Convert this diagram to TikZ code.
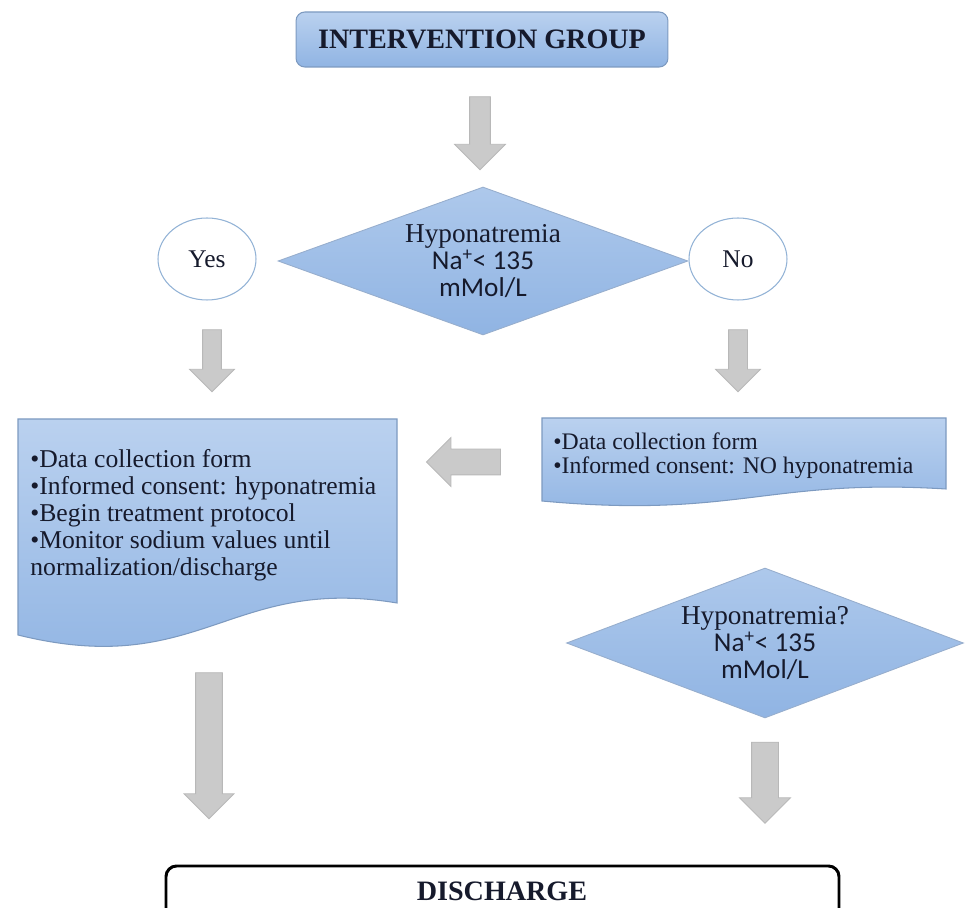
\documentclass[tikz,border=0pt]{standalone}
\usepackage{fontspec}
\setmainfont{Liberation Serif}
\newfontfamily\calibri{Carlito}
\usepackage{tikz}
\usetikzlibrary{shapes.geometric, shapes.arrows, calc}
\definecolor{bTop}{HTML}{BAD1EF}
\definecolor{bBot}{HTML}{90B4E3}
\definecolor{bLine}{HTML}{7D9AC0}
\definecolor{cLine}{HTML}{93B3D6}
\definecolor{aFill}{HTML}{CACACA}
\definecolor{aLine}{HTML}{B8B8B8}
\definecolor{tInk}{HTML}{161A2C}

\begin{document}
\begin{tikzpicture}[
  x=0.02cm, y=-0.02cm,
  every node/.style={text=tInk},
  box/.style={rectangle, rounded corners=5pt, draw=bLine, top color=bTop, bottom color=bBot,
              line width=0.6pt, minimum width=7.44cm, minimum height=1.1cm,
              font=\fontsize{16}{18}\selectfont\bfseries},
  decide/.style={diamond, draw=bLine!80, top color=bTop!70!bBot, bottom color=bBot,
                 line width=0.5pt, inner sep=0pt, align=center,
                 font=\fontsize{15.5}{15.6}\selectfont},
  answer/.style={ellipse, draw=cLine, fill=white, line width=0.6pt,
                 minimum width=1.96cm, minimum height=1.64cm,
                 font=\fontsize{14.5}{16}\selectfont},
  sheet/.style={draw=bLine, top color=bTop, bottom color=bBot, line width=0.6pt},
  garrow/.style={single arrow, draw=aLine, fill=aFill, line width=0.5pt,
                 single arrow head indent=0pt}
]
\useasboundingbox (0,0) rectangle (965,908);
\clip (0,0) rectangle (965,908);

% start
\node[box] (group) at (482,39.5) {INTERVENTION GROUP};
\node[garrow, shape border rotate=270, minimum height=1.46cm, inner sep=0.2cm,
      single arrow head extend=0.3cm] (arr1) at (480,128) {};

% first question
\node[decide, aspect=2.77, minimum width=8.2cm, minimum height=2.96cm] (ask1) at (483,261)
  {Hyponatremia\\{\calibri Na\textsuperscript{+}< 135}\\{\calibri mMol/L}};
\node[answer] (yes) at (207,259) {Yes};
\node[answer] (no) at (738,259) {No};
\node[garrow, shape border rotate=270, minimum height=1.24cm, inner sep=0.18cm,
      single arrow head extend=0.26cm] (arryes) at (212,356) {};
\node[garrow, shape border rotate=270, minimum height=1.24cm, inner sep=0.18cm,
      single arrow head extend=0.26cm] (arrno) at (738,356) {};

% yes branch
\draw[sheet] (18,419) -- (397,419) -- (397,603)
  .. controls (230,575) and (200,680) .. (18,635) -- cycle;
\node[anchor=north west, align=left, inner sep=0pt, font=\fontsize{14.6}{15.4}\selectfont]
  (yestext) at (30,449)
  {\textbullet Data collection form\\
   \textbullet Informed consent: hyponatremia\\
   \textbullet Begin treatment protocol\\
   \textbullet Monitor sodium values until\\
   normalization/discharge};

% no branch
\draw[sheet] (542,418) -- (946,418) -- (946,489)
  .. controls (768,478) and (736,519) .. (542,501) -- cycle;
\node[anchor=north west, align=left, inner sep=0pt, font=\fontsize{13.5}{13.7}\selectfont]
  (notext) at (553,432)
  {\textbullet Data collection form\\
   \textbullet Informed consent: NO hyponatremia};
\node[garrow, shape border rotate=180, minimum height=1.48cm, inner sep=0.25cm,
      single arrow head extend=0.23cm] (arrback) at (470,462) {};

\node[decide, aspect=2.65, minimum width=7.94cm, minimum height=3.0cm] (ask2) at (765,643)
  {Hyponatremia?\\{\calibri Na\textsuperscript{+}< 135}\\{\calibri mMol/L}};

% to discharge
\node[garrow, shape border rotate=270, minimum height=2.92cm, inner sep=0.26cm,
      single arrow head extend=0.23cm] (arrend1) at (209,739) {};
\node[garrow, shape border rotate=270, minimum height=1.62cm, inner sep=0.26cm,
      single arrow head extend=0.24cm] (arrend2) at (765,776) {};

\draw[line width=1.7pt, rounded corners=6pt] (166,866) rectangle (839,960);
\node[font=\fontsize{16}{18}\selectfont\bfseries] (discharge) at (502,891) {DISCHARGE};
\end{tikzpicture}
\end{document}
